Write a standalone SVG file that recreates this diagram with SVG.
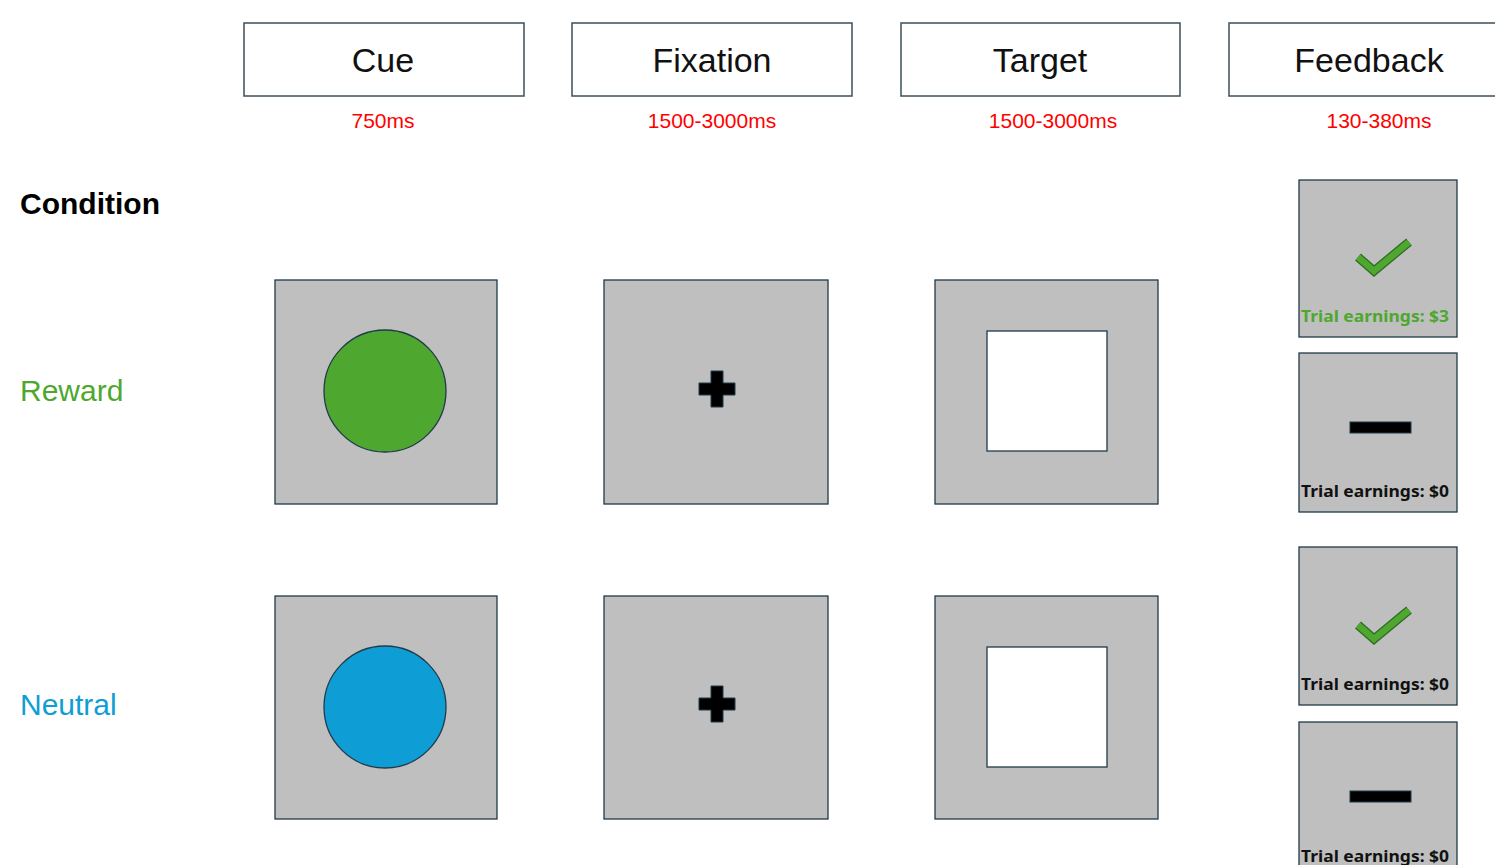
<svg xmlns="http://www.w3.org/2000/svg" width="1495" height="865" viewBox="0 0 1495 865">
<style>
.hdr{fill:#fff;stroke:#3d4f5c;stroke-width:1.5}
.hdrt{font-family:"Liberation Sans",Arial,sans-serif;font-size:34px;fill:#111;text-anchor:middle}
.time{font-family:"Liberation Sans",Arial,sans-serif;font-size:21px;fill:#ff0000;text-anchor:middle}
.scr{fill:#bfbfbf;stroke:#1f3a4a;stroke-width:1.3}
.cond{font-family:"Liberation Sans",Arial,sans-serif;font-size:30px}
.earn{font-family:"Noto Sans","Open Sans",sans-serif;font-size:16px;font-weight:bold}
.chk{fill:none;stroke:#2f6b22;stroke-width:9;stroke-linejoin:miter;stroke-linecap:butt}
.chk2{fill:none;stroke:#4ea72e;stroke-width:6.5;stroke-linejoin:miter;stroke-linecap:butt}
.dash{fill:#000;stroke:#1f3a4a;stroke-width:1}
.inner{fill:#fff;stroke:#1f3a4a;stroke-width:1.3}
</style>
<defs>
<g id="check"><path class="chk" d="M-25,-2 L-9,12 L26,-17"/><path class="chk2" d="M-25,-2 L-9,12 L26,-17"/></g>
<path id="cross" d="M-6,-18 H6 V-6 H18 V6 H6 V18 H-6 V6 H-18 V-6 H-6 Z" fill="#000" stroke="#1f3a4a" stroke-width="1"/>
</defs>
<rect width="1495" height="865" fill="#fff"/>
<g id="header-cue"><rect class="hdr" x="244" y="23" width="280" height="73"/><text class="hdrt" x="383" y="72">Cue</text><text class="time" x="383" y="128">750ms</text></g>
<g id="header-fixation"><rect class="hdr" x="572" y="23" width="280" height="73"/><text class="hdrt" x="712" y="72">Fixation</text><text class="time" x="712" y="128">1500-3000ms</text></g>
<g id="header-target"><rect class="hdr" x="901" y="23" width="279" height="73"/><text class="hdrt" x="1040" y="72">Target</text><text class="time" x="1053" y="128">1500-3000ms</text></g>
<g id="header-feedback"><rect class="hdr" x="1229" y="23" width="300" height="73"/><text class="hdrt" x="1369" y="72">Feedback</text><text class="time" x="1379" y="128">130-380ms</text></g>
<g id="labels">
<text class="cond" x="20" y="214" font-weight="bold" fill="#000">Condition</text>
<text class="cond" x="20" y="401" fill="#4ea72e">Reward</text>
<text class="cond" x="20" y="715" fill="#0e9ed5">Neutral</text>
</g>
<g id="reward-cue"><rect class="scr" x="275" y="280" width="222" height="224"/><circle cx="385" cy="391" r="61" fill="#4ea72e" stroke="#1f3a4a" stroke-width="1.3"/></g>
<g id="reward-fixation"><rect class="scr" x="604" y="280" width="224" height="224"/><use href="#cross" x="717" y="389"/></g>
<g id="reward-target"><rect class="scr" x="935" y="280" width="223" height="224"/><rect class="inner" x="987" y="331" width="120" height="120"/></g>
<g id="neutral-cue"><rect class="scr" x="275" y="596" width="222" height="223"/><circle cx="385" cy="707" r="61" fill="#0e9ed5" stroke="#1f3a4a" stroke-width="1.3"/></g>
<g id="neutral-fixation"><rect class="scr" x="604" y="596" width="224" height="223"/><use href="#cross" x="717" y="704"/></g>
<g id="neutral-target"><rect class="scr" x="935" y="596" width="223" height="223"/><rect class="inner" x="987" y="647" width="120" height="120"/></g>
<g id="fb-reward-hit"><rect class="scr" x="1299" y="180" width="158" height="157"/><use href="#check" x="1383" y="259"/><text class="earn" x="1301" y="322" fill="#4ea72e" textLength="148" lengthAdjust="spacingAndGlyphs">Trial earnings: $3</text></g>
<g id="fb-reward-miss"><rect class="scr" x="1299" y="353" width="158" height="159"/><rect class="dash" x="1350" y="422" width="61" height="11"/><text class="earn" x="1301" y="497" fill="#111" textLength="148" lengthAdjust="spacingAndGlyphs">Trial earnings: $0</text></g>
<g id="fb-neutral-hit"><rect class="scr" x="1299" y="547" width="158" height="158"/><use href="#check" x="1383" y="627"/><text class="earn" x="1301" y="690" fill="#111" textLength="148" lengthAdjust="spacingAndGlyphs">Trial earnings: $0</text></g>
<g id="fb-neutral-miss"><rect class="scr" x="1299" y="722" width="158" height="160"/><rect class="dash" x="1350" y="791" width="61" height="11"/><text class="earn" x="1301" y="862" fill="#111" textLength="148" lengthAdjust="spacingAndGlyphs">Trial earnings: $0</text></g>
<g id="connectors"/>
</svg>
